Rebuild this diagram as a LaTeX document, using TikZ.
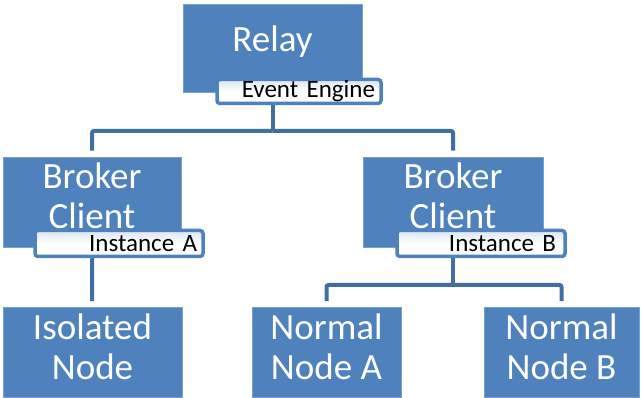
\documentclass[tikz,border=0pt]{standalone}
\usepackage{fontspec}
\setmainfont{Carlito}
\definecolor{boxblue}{RGB}{79,129,189}
\definecolor{wireblue}{RGB}{66,110,165}
\definecolor{tagblue}{RGB}{219,229,241}
\tikzset{
    box/.style={rectangle, fill=boxblue, draw=boxblue!75!white, line width=0.8pt, text=white, align=center, inner sep=0, minimum height=90pt, text depth=12pt, font=\fontsize{37}{40}\selectfont},
    tagbox/.style={rectangle, rounded corners=3pt, draw=boxblue, line width=3.5pt, top color=tagblue, bottom color=white, middle color=white, text width=#1, align=right, inner xsep=6pt, inner ysep=0, minimum height=24pt, font=\fontsize{25}{27}\selectfont},
    wire/.style={draw=wireblue, line width=4pt, rounded corners=2pt}
}

\begin{document}
\begin{tikzpicture}[x=1pt, y=-1pt]
    \useasboundingbox (0,0) rectangle (641,398);

    % boxes
    \node[box, minimum width=179pt, minimum height=88pt, text depth=19pt] (relay) at (272.5,48) {Relay};
    \node[box, minimum width=178pt] (brokera) at (92,202) {Broker\\Client};
    \node[box, minimum width=180pt] (brokerb) at (453,202) {Broker\\Client};
    \node[box, minimum width=179pt] (isolated) at (92.5,352.5) {Isolated\\Node};
    \node[box, minimum width=149pt] (normala) at (326.5,352.5) {Normal\\Node A};
    \node[box, minimum width=155pt] (normalb) at (561.5,352.5) {Normal\\Node B};

    % tags
    \node[tagbox=152pt] (engine) at (299,91.5) {Event Engine};
    \node[tagbox=156pt, minimum height=26pt] (insta) at (119,243.5) {Instance A};
    \node[tagbox=150pt, inner xsep=9pt, minimum height=26pt] (instb) at (481,243.5) {Instance B};

    % wires
    \coordinate (relaystem) at (relay.south |- engine.south);
    \coordinate (bustop) at (272.5,131);
    \coordinate (stema) at (brokera.south |- insta.south);
    \coordinate (stemb) at (brokerb.south |- instb.south);
    \coordinate (busb) at (453,285);

    \draw[wire] (relaystem) -- (bustop);
    \draw[wire, shorten >=6pt] (bustop) -| (brokera);
    \draw[wire, shorten >=6pt] (bustop) -| (brokerb);
    \draw[wire, shorten >=6pt] (stema) -- (isolated);
    \draw[wire] (stemb) -- (busb);
    \draw[wire, shorten >=6pt] (busb) -| (normala);
    \draw[wire, shorten >=6pt] (busb) -| (normalb);
\end{tikzpicture}
\end{document}
